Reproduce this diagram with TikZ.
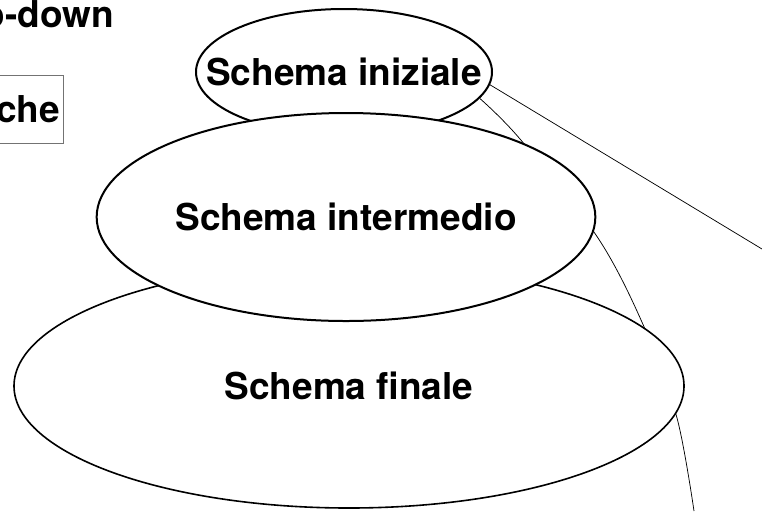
\documentclass[tikz,border=0pt]{standalone}
\usepackage{fontspec}
\setmainfont{TeX Gyre Heros}
\usetikzlibrary{shapes.geometric,backgrounds}
\begin{document}
\begin{tikzpicture}[x=0.75pt,y=-0.75pt,
  lab/.style={font=\bfseries\fontsize{27.75pt}{33pt}\selectfont, inner sep=0pt},
  oval/.style={ellipse, draw, fill=white, line width=1.5pt, inner sep=0pt},
  link/.style={line width=0.55pt}]
\useasboundingbox (0,0) rectangle (762,511);
\node[oval, line width=1.2pt, minimum width=502.5pt, minimum height=183pt] (fin) at (349,386) {};
\node[oval, minimum width=222pt, minimum height=94.5pt] (ini) at (344,72) {};
\node[oval, minimum width=374pt, minimum height=156pt] (mid) at (346,217) {};
\node[lab] (tini) at (ini.center) {Schema iniziale};
\node[lab] (tmid) at (mid.center) {Schema intermedio};
\node[lab] (tfin) at (fin.center) {Schema finale};
\node[lab, anchor=base east] (top) at (114,27) {o-down};
\node[lab, draw=black!55, line width=0.7pt, anchor=east, inner xsep=2.25pt, text height=20pt, text depth=0pt, minimum height=51pt] (box) at (63.5,109) {che};
\coordinate (r) at (762,249);
\coordinate (b) at (694,511);
\begin{pgfonlayer}{background}
\draw[link] (ini.-5) -- (r);
\draw[link] plot[smooth, tension=0.55] coordinates {(ini.-11) (520,139) (598,238) (645,329) (677,418) (b)};
\end{pgfonlayer}
\end{tikzpicture}
\end{document}
